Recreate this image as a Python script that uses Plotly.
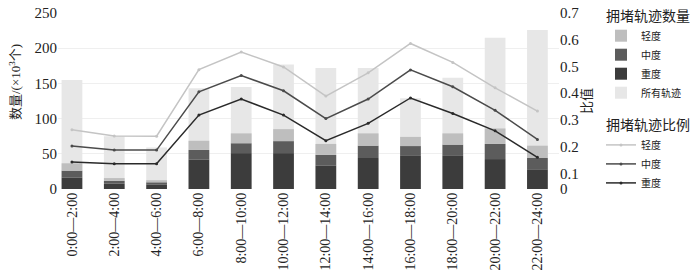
import plotly.graph_objects as go

categories = ["0:00—2:00", "2:00—4:00", "4:00—6:00", "6:00—8:00", "8:00—10:00",
              "10:00—12:00", "12:00—14:00", "14:00—16:00", "16:00—18:00",
              "18:00—20:00", "20:00—22:00", "22:00—24:00"]

count_total = [155, 75, 59, 143, 145, 177, 172, 172, 129, 158, 215, 226]
count_heavy = [16, 7.5, 6.5, 42, 51, 51, 33, 44, 47, 47, 42.5, 28]
count_medium = [10, 4, 3, 13.5, 14, 17, 15.5, 17.5, 14, 16, 21.5, 16]
count_light = [10.5, 4, 3, 13, 14, 17, 15.5, 17.5, 13, 16, 22, 17.5]

ratio_light = [0.263, 0.240, 0.239, 0.488, 0.554, 0.498, 0.389, 0.476, 0.586, 0.515, 0.420, 0.333]
ratio_medium = [0.202, 0.187, 0.187, 0.405, 0.466, 0.409, 0.305, 0.378, 0.487, 0.424, 0.336, 0.227]
ratio_heavy = [0.142, 0.136, 0.136, 0.318, 0.378, 0.318, 0.222, 0.287, 0.382, 0.324, 0.259, 0.160]

left_ticks = [0, 50, 100, 150, 200, 250]
right_ticks = [0.0414, 0.1, 0.2, 0.3, 0.4, 0.5, 0.6, 0.7]
right_ticktext = ["0", "0.1", "0.2", "0.3", "0.4", "0.5", "0.6", "0.7"]

FONT = "'Liberation Serif', 'DejaVu Serif', 'Noto Sans CJK SC', serif"
idx = list(range(len(categories)))

base_medium = [h for h in count_heavy]
base_light = [h + m for h, m in zip(count_heavy, count_medium)]

fig = go.Figure()
G1 = "拥堵轨迹数量"
G2 = "拥堵轨迹比例"
bw = 0.49

fig.add_trace(go.Bar(x=idx, y=count_total, name="所有轨迹", marker=dict(color="#e7e7e7", line_width=0),
                     width=bw, legendgroup="g1", legendgrouptitle_text=G1, legendrank=4))
fig.add_trace(go.Bar(x=idx, y=count_heavy, name="重度", marker=dict(color="#3c3c3c", line_width=0),
                     width=bw, legendgroup="g1", legendgrouptitle_text=G1, legendrank=3))
fig.add_trace(go.Bar(x=idx, y=count_medium, base=base_medium, name="中度", marker=dict(color="#5c5c5c", line_width=0),
                     width=bw, legendgroup="g1", legendgrouptitle_text=G1, legendrank=2))
fig.add_trace(go.Bar(x=idx, y=count_light, base=base_light, name="轻度", marker=dict(color="#bebebe", line_width=0),
                     width=bw, legendgroup="g1", legendgrouptitle_text=G1, legendrank=1))

for name, vals, col, rank in [("轻度", ratio_light, "#c4c4c4", 5),
                              ("中度", ratio_medium, "#4b4b4b", 6),
                              ("重度", ratio_heavy, "#2a2a2a", 7)]:
    fig.add_trace(go.Scatter(x=idx, y=vals, name=name, yaxis="y2", mode="lines+markers",
                             line=dict(color=col, width=1.5), marker=dict(size=3, color=col),
                             legendgroup="g2", legendgrouptitle_text=G2, legendrank=rank))

fig.update_layout(
    width=700, height=280,
    margin=dict(l=58, r=141, t=13, b=91),
    paper_bgcolor="white", plot_bgcolor="white",
    barmode="overlay",
    font=dict(family=FONT, size=14, color="#222"),
    xaxis=dict(range=[-0.33, 11.51], tickmode="array", tickvals=idx, ticktext=categories,
               tickangle=-90, tickfont=dict(family=FONT, size=14, color="#222"), showgrid=False,
               zeroline=False, showline=False, ticks="", automargin=False, ticklabeloverflow="allow"),
    yaxis=dict(range=[0, 250], tickvals=left_ticks, tickfont=dict(family=FONT, size=15, color="#222"),
               showgrid=True, gridcolor="#efefef", gridwidth=1, zeroline=False, ticks="",
               automargin=False, ticklabeloverflow="allow"),
    yaxis2=dict(range=[0.0414, 0.7], overlaying="y", side="right", tickmode="array",
                tickvals=right_ticks, ticktext=right_ticktext, tickfont=dict(family=FONT, size=15, color="#222"),
                showgrid=False, zeroline=False, ticks="", automargin=False, ticklabeloverflow="allow"),
    legend=dict(xref="container", yref="container", x=1.0, y=1.0, xanchor="right", yanchor="top",
                traceorder="grouped",
                font=dict(family=FONT, size=10, color="#222"), grouptitlefont=dict(family=FONT, size=14, color="#222"),
                tracegroupgap=12, bgcolor="rgba(0,0,0,0)", itemwidth=30, maxheight=280),
    showlegend=True,
    annotations=[
        dict(text="数量/(×10<sup>3</sup>个)", xref="paper", yref="paper", x=(15 - 58) / 501, y=(189 - 82) / 176,
             textangle=-90, showarrow=False, font=dict(family=FONT, size=13, color="#222"),
             xanchor="center", yanchor="middle"),
        dict(text="比值", xref="paper", yref="paper", x=(586 - 58) / 501, y=(189 - 101) / 176,
             textangle=-90, showarrow=False, font=dict(family=FONT, size=13, color="#222"),
             xanchor="center", yanchor="middle"),
    ],
)

# remove the page's default 8px body margin so the 700x280 figure fills the window exactly
fig.write_html("out.html", config={"displayModeBar": False},
               post_script="document.body.style.margin='0';")
